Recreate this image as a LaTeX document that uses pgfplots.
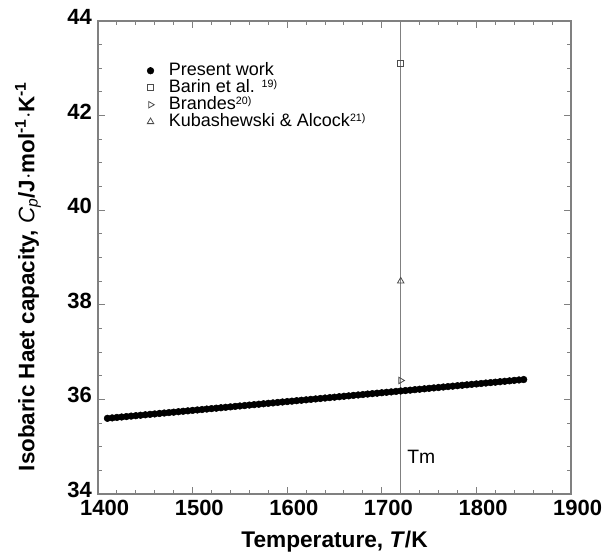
\documentclass[border=0pt]{standalone}
\usepackage{pgfplots}
\pgfplotsset{compat=1.18}
\usepackage{fontspec}
\setmainfont{Liberation Sans}
\setsansfont{Liberation Sans}
\definecolor{axgray}{HTML}{808080}
\newcommand{\sref}[1]{\raisebox{0.55ex}{\fontsize{8}{9}\selectfont #1}}
\begin{document}
\begin{tikzpicture}
\begin{axis}[
  at={(0,0)}, anchor=south west,
  scale only axis,
  width=354.75pt, height=354.75pt,
  xmin=1400, xmax=1900, ymin=34, ymax=44,
  xtick={1400,1500,...,1900},
  ytick={34,36,...,44},
  minor x tick num=4,
  minor y tick num=3,
  tick align=inside,
  major tick length=5pt,
  minor tick length=3pt,
  axis line style={axgray, line width=1pt},
  every tick/.style={axgray, line width=0.8pt},
  /pgf/number format/assume math mode=true,
  /pgf/number format/1000 sep={},
  ticklabel style={font=\fontsize{16.5}{18}\selectfont\bfseries},
  xticklabel style={yshift=-1pt, xshift=5pt},
  yticklabel style={xshift=-1pt, yshift=3pt},
  xlabel={\fontsize{17}{19}\selectfont\bfseries Temperature, \textit{T}/K},
  ylabel={\fontsize{16.8}{19}\selectfont\bfseries Isobaric Haet capacity, \textmd{\textit{C\textsubscript{p}}}/J$\cdot$mol\textsuperscript{-1}$\cdot$K\textsuperscript{-1}},
  xlabel style={yshift=-5pt},
  ylabel style={at={(ticklabel cs:0.46)}, yshift=13pt},
  legend style={draw=none, fill=none, at={(0.095,0.919)}, anchor=north west,
    font=\fontsize{13.5}{14}\selectfont, row sep=0pt, column sep=9pt,
    nodes={inner ysep=0pt, text height=9.9pt, text depth=2.85pt},
    legend cell align=left},
  clip=false,
]
\addplot[forget plot, axgray, line width=1pt] coordinates {(1720,34) (1720,44)};
\addplot[only marks, mark=*, mark size=2.5pt, black] coordinates {
(1410,35.600) (1415,35.609) (1420,35.619) (1425,35.628) (1430,35.637) (1435,35.647)
(1440,35.656) (1445,35.665) (1450,35.675) (1455,35.684) (1460,35.693) (1465,35.703)
(1470,35.712) (1475,35.721) (1480,35.730) (1485,35.740) (1490,35.749) (1495,35.758)
(1500,35.768) (1505,35.777) (1510,35.786) (1515,35.796) (1520,35.805) (1525,35.814)
(1530,35.824) (1535,35.833) (1540,35.842) (1545,35.852) (1550,35.861) (1555,35.870)
(1560,35.880) (1565,35.889) (1570,35.898) (1575,35.908) (1580,35.917) (1585,35.926)
(1590,35.936) (1595,35.945) (1600,35.954) (1605,35.963) (1610,35.973) (1615,35.982)
(1620,35.991) (1625,36.001) (1630,36.010) (1635,36.019) (1640,36.029) (1645,36.038)
(1650,36.047) (1655,36.057) (1660,36.066) (1665,36.075) (1670,36.085) (1675,36.094)
(1680,36.103) (1685,36.113) (1690,36.122) (1695,36.131) (1700,36.141) (1705,36.150)
(1710,36.159) (1715,36.169) (1720,36.178) (1725,36.187) (1730,36.196) (1735,36.206)
(1740,36.215) (1745,36.224) (1750,36.234) (1755,36.243) (1760,36.252) (1765,36.262)
(1770,36.271) (1775,36.280) (1780,36.290) (1785,36.299) (1790,36.308) (1795,36.318)
(1800,36.327) (1805,36.336) (1810,36.346) (1815,36.355) (1820,36.364) (1825,36.374)
(1830,36.383) (1835,36.392) (1840,36.402) (1845,36.411) (1850,36.420)};
\addlegendentry{Present work}
\addplot[only marks, mark=square, mark size=2.2pt, black!70, mark options={line width=0.6pt}] coordinates {(1720,43.1)};
\addlegendentry{Barin et al. \sref{19)}}
\addplot[only marks, mark=triangle, mark size=2.8pt, black!70, mark options={rotate=-90, line width=0.6pt}] coordinates {(1720,36.4)};
\addlegendentry{Brandes\sref{20)}}
\addplot[only marks, mark=triangle, mark size=2.8pt, black!70, mark options={line width=0.6pt}] coordinates {(1720,38.5)};
\addlegendentry{Kubashewski \& Alcock\sref{21)}}
\node[anchor=west, font=\fontsize{14.5}{16}\selectfont] at (axis cs:1722,34.78) {Tm};
\end{axis}
\pgfresetboundingbox
\path[use as bounding box] (-73.5pt,-47.25pt) rectangle (388.5pt,370.5pt);
\end{tikzpicture}
\end{document}
